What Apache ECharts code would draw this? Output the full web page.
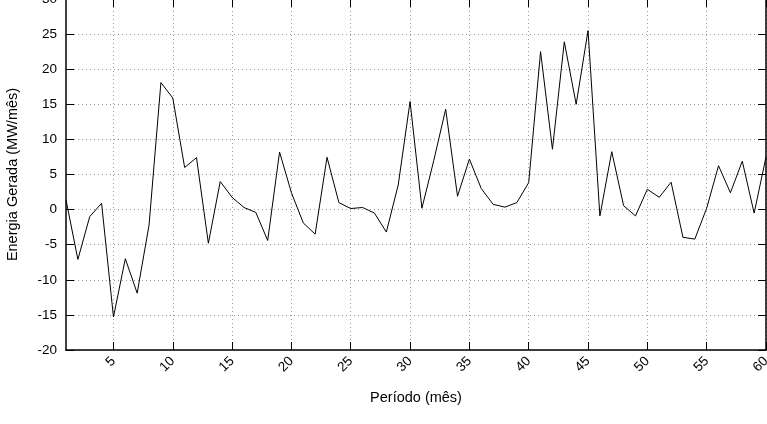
<!DOCTYPE html>
<html>
<head>
<meta charset="utf-8">
<script src="https://cdn.jsdelivr.net/npm/echarts@6/dist/echarts.min.js"></script>
<style>
  html, body { margin: 0; padding: 0; background: #fff; }
  #chart { width: 767px; height: 424px; }
</style>
</head>
<body>
<div id="chart"></div>
<script>
// Period (month) index and generated energy values
const periods = [];
for (let i = 1; i <= 60; i++) periods.push(i);
const energy = [
  1.4, -7.1, -1.0, 0.9, -15.3, -7.0, -11.9, -2.2, 18.1, 15.9,
  6.0, 7.4, -4.8, 4.0, 1.75, 0.3, -0.4, -4.4, 8.2, 2.4,
  -1.9, -3.5, 7.45, 1.0, 0.15, 0.3, -0.5, -3.2, 3.5, 15.4,
  0.2, 7.0, 14.3, 1.9, 7.2, 3.0, 0.75, 0.35, 1.0, 3.85,
  22.5, 8.6, 23.9, 15.0, 25.5, -0.9, 8.25, 0.55, -0.9, 2.9,
  1.75, 3.9, -3.95, -4.2, 0.2, 6.25, 2.4, 6.9, -0.5, 7.5
];
const xTicks = [5, 10, 15, 20, 25, 30, 35, 40, 45, 50, 55, 60];
const xTitle = 'Período (mês)';
const yTitle = 'Energia Gerada (MW/mês)';

const points = periods.map((p, i) => [p, energy[i]]);
const font = 'Liberation Sans, Arial, Helvetica, sans-serif';
const dotted = { type: [1, 3], color: '#9a9a9a', width: 1 };

const chart = echarts.init(document.getElementById('chart'), null, { renderer: 'canvas' });
chart.setOption({
  animation: false,
  backgroundColor: '#fff',
  grid: { left: 66, right: 1, top: -1, bottom: 74, containLabel: false, outerBoundsMode: 'none' },
  xAxis: [
    {
      type: 'value', min: 1, max: 60, position: 'bottom',
      name: xTitle, nameLocation: 'middle', nameGap: 40,
      nameTextStyle: { fontFamily: font, fontSize: 14.5, color: '#000' },
      axisLine: { show: true, onZero: false, lineStyle: { color: '#000', width: 1.5 } },
      axisTick: { show: true, inside: true, length: 8, customValues: xTicks, lineStyle: { color: '#000' } },
      axisLabel: { show: true, rotate: 45, customValues: xTicks, margin: 9, fontFamily: font, fontSize: 13.5, color: '#000' },
      splitLine: { show: true, lineStyle: dotted }
    },
    {
      type: 'value', min: 1, max: 60, position: 'top',
      axisLine: { show: true, onZero: false, lineStyle: { color: '#000', width: 1.5 } },
      axisTick: { show: true, inside: true, length: 8, customValues: xTicks, lineStyle: { color: '#000' } },
      axisLabel: { show: false },
      splitLine: { show: false }
    }
  ],
  yAxis: [
    {
      type: 'value', min: -20, max: 30, interval: 5, position: 'left',
      name: yTitle, nameLocation: 'middle', nameGap: 46,
      nameTextStyle: { fontFamily: font, fontSize: 14.5, color: '#000' },
      axisLine: { show: true, onZero: false, lineStyle: { color: '#000', width: 1.5 } },
      axisTick: { show: true, inside: true, length: 8, lineStyle: { color: '#000' } },
      axisLabel: { show: true, margin: 9, fontFamily: font, fontSize: 13.5, color: '#000' },
      splitLine: { show: true, lineStyle: dotted }
    },
    {
      type: 'value', min: -20, max: 30, interval: 5, position: 'right',
      axisLine: { show: true, onZero: false, lineStyle: { color: '#000', width: 1.5 } },
      axisTick: { show: true, inside: true, length: 8, lineStyle: { color: '#000' } },
      axisLabel: { show: false },
      splitLine: { show: false }
    }
  ],
  series: [
    {
      type: 'line',
      data: points,
      xAxisIndex: 0, yAxisIndex: 0,
      showSymbol: false, symbol: 'none',
      lineStyle: { color: '#000', width: 1 },
      z: 3
    }
  ]
});
</script>
</body>
</html>
